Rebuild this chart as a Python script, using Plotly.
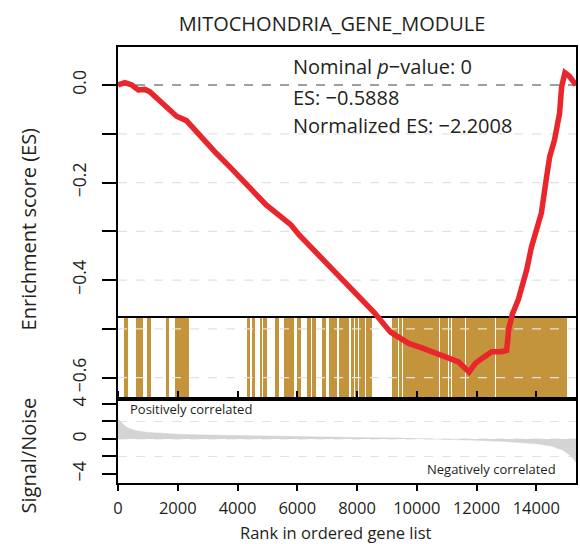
import plotly.graph_objects as go

# ---------------- data ----------------
N_GENES = 15330

es_rank = [0, 230, 460, 680, 900, 1070, 1340, 1680, 1960, 2290, 2620, 3290, 3840,
           4400, 4960, 5510, 5790, 6070, 6800, 7500, 8570, 9120, 9730, 10170, 10620,
           10960, 11400, 11750, 11960, 12180, 12510, 12840, 13010, 13080, 13200,
           13400, 13680, 13840, 13950, 14170, 14330, 14450, 14610, 14780, 14850,
           14960, 15110, 15330]
es_value = [0.0, 0.005, 0.0, -0.010, -0.009, -0.014, -0.029, -0.050, -0.064, -0.073,
            -0.096, -0.140, -0.174, -0.212, -0.246, -0.273, -0.287, -0.308, -0.354,
            -0.398, -0.466, -0.507, -0.530, -0.539, -0.549, -0.557, -0.568, -0.5888,
            -0.571, -0.561, -0.547, -0.547, -0.544, -0.500, -0.470, -0.440, -0.379,
            -0.332, -0.310, -0.263, -0.195, -0.147, -0.113, -0.058, -0.003, 0.025,
            0.018, 0.0]

# hit blocks (gene-set members) in rank units: start / end of each gold band
hit_start = [200, 600, 967, 1600, 1900, 4333, 4500, 4767, 4867, 5267, 5567, 6000,
             6333, 6500, 6833, 7067, 7400, 7783, 7917, 8067, 8317, 9167, 9417,
             9533, 10783, 11083, 11183, 11650, 12650]
hit_end = [333, 833, 1100, 1700, 2367, 4433, 4600, 4833, 5000, 5400, 5900, 6133,
           6467, 6633, 6967, 7333, 7733, 7883, 8033, 8283, 8500, 9383, 9500,
           10750, 11050, 11150, 11617, 12617, 15033]

sn_rank = [0, 100, 300, 600, 1000, 2000, 3000, 4000, 6000, 8000, 9500, 10500,
           11000, 12000, 13000, 14000, 14500, 14900, 15100, 15250, 15330]
sn_value = [2.3, 1.9, 1.3, 0.95, 0.75, 0.55, 0.45, 0.38, 0.28, 0.18, 0.1, 0.02,
            -0.05, -0.15, -0.3, -0.55, -0.8, -1.3, -1.8, -2.3, -2.7]

es_ticks = [0.0, -0.1, -0.2, -0.3, -0.4, -0.5, -0.6]
es_ticktext = ["0.0", "", "\u22120.2", "", "\u22120.4", "", "\u22120.6"]
es_grid = [-0.1, -0.2, -0.3, -0.4, -0.5, -0.6]
sn_ticks = [4, 2, 0, -2, -4]
sn_ticktext = ["4", "", "0", "", "\u22124"]
sn_grid = [2, 0, -2]
x_ticks = [0, 2000, 4000, 6000, 8000, 10000, 12000, 14000]
x_ticktext = ["0", "2000", "4000", "6000", "8000", "10000", "12000", "14000"]

title = "MITOCHONDRIA_GENE_MODULE"
stats = ["Nominal <i>p</i>\u2212value: 0", "ES: \u22120.5888", "Normalized ES: \u22122.2008"]

# ---------------- style ----------------
FONT = "Open Sans"
TXT = "#231f20"
RED = "#e8262b"
GOLD = "#c4943c"
GRID = "#e2e2e2"

fig = go.Figure()

# hit bars (subplot x/y)
fig.add_trace(go.Bar(
    x=[(s + e) / 2 for s, e in zip(hit_start, hit_end)],
    y=[1] * len(hit_start),
    width=[e - s for s, e in zip(hit_start, hit_end)],
    base=0, marker=dict(color=GOLD, line=dict(width=0)),
    xaxis="x", yaxis="y", hoverinfo="skip", showlegend=False))

# grid lines, zero line + ES curve (subplot x/y2, drawn above the hit bars)
for g in es_grid:
    fig.add_trace(go.Scatter(x=[0, N_GENES], y=[g, g], mode="lines",
                             line=dict(color=GRID, width=1.2, dash="dash"),
                             xaxis="x", yaxis="y2", hoverinfo="skip", showlegend=False))
fig.add_trace(go.Scatter(x=[0, N_GENES], y=[0, 0], mode="lines",
                         line=dict(color="#808080", width=1.5, dash="dash"),
                         xaxis="x", yaxis="y2", hoverinfo="skip", showlegend=False))
fig.add_trace(go.Scatter(x=es_rank, y=es_value, mode="lines",
                         line=dict(color=RED, width=5.5),
                         xaxis="x", yaxis="y2", showlegend=False))

# signal/noise (subplot x/y3)
for g in sn_grid:
    fig.add_trace(go.Scatter(x=[0, N_GENES], y=[g, g], mode="lines",
                             line=dict(color=GRID, width=1.2, dash="dash"),
                             xaxis="x", yaxis="y3", hoverinfo="skip", showlegend=False))
fig.add_trace(go.Scatter(x=sn_rank, y=sn_value, mode="lines", fill="tozeroy",
                         fillcolor="#d4d4d4", line=dict(color="#d4d4d4", width=0.5),
                         xaxis="x", yaxis="y3", showlegend=False))

ES_DOM = [84 / 436, 1.0]
HIT_DOM = [84 / 436, 165 / 436]
SN_DOM = [0.0, 84 / 436]

fig.update_layout(
    width=580, height=544,
    margin=dict(l=118, r=2, t=47, b=61),
    paper_bgcolor="white", plot_bgcolor="rgba(0,0,0,0)",
    font=dict(family=FONT, color=TXT, size=16),
    showlegend=False,
    bargap=0,
    xaxis=dict(range=[0, N_GENES], anchor="y3", tickvals=x_ticks, ticktext=x_ticktext,
               ticks="outside", ticklen=6, tickwidth=1.5, tickcolor="black",
               showline=True, linecolor="black", linewidth=1.6, mirror="all",
               showgrid=False, zeroline=False, tickfont=dict(size=16.5),
               ticklabelstandoff=3),
    yaxis=dict(domain=HIT_DOM, range=[0, 1], anchor="x", visible=False,
               showgrid=False, zeroline=False),
    yaxis2=dict(domain=ES_DOM, range=[-0.644, 0.078], anchor="x",
                tickvals=es_ticks, ticktext=es_ticktext, tickangle=-90,
                ticks="outside", ticklen=14, tickwidth=1.5, tickcolor="black",
                showline=True, linecolor="black", linewidth=2, mirror=True,
                showgrid=False, zeroline=False, tickfont=dict(size=17.5),
                ticklabelstandoff=9),
    yaxis3=dict(domain=SN_DOM, range=[-5.03, 4.57], anchor="x",
                tickvals=sn_ticks, ticktext=sn_ticktext, tickangle=-90,
                ticks="outside", ticklen=14, tickwidth=1.5, tickcolor="black",
                showline=True, linecolor="black", linewidth=2, mirror=True,
                showgrid=False, zeroline=False, tickfont=dict(size=17.5),
                ticklabelstandoff=9),
    title=dict(text=title, x=332 / 580, xanchor="center", xref="container",
               y=1 - 24 / 544, yanchor="middle", yref="container",
               font=dict(size=20, family=FONT, color=TXT)),
)

ann = []
for txt, ypx in zip(stats, [66, 97, 126]):
    ann.append(dict(text=txt, xref="paper", yref="paper", x=(292 - 118) / 460,
                    y=(483 - ypx) / 436, xanchor="left", yanchor="middle",
                    showarrow=False, font=dict(size=20, family=FONT, color=TXT)))
ann.append(dict(text="Positively correlated", xref="paper", yref="paper",
                x=(128 - 118) / 460, y=(483 - 409) / 436, xanchor="left",
                yanchor="middle", showarrow=False, font=dict(size=13)))
ann.append(dict(text="Negatively correlated", xref="paper", yref="paper",
                x=(560 - 118) / 460, y=(483 - 469) / 436, xanchor="right",
                yanchor="middle", showarrow=False, font=dict(size=13)))
ann.append(dict(text="Enrichment score (ES)", xref="paper", yref="paper",
                x=-(118 - 28) / 460, y=(483 - 229) / 436, textangle=-90,
                xanchor="center", yanchor="middle", showarrow=False,
                font=dict(size=20)))
ann.append(dict(text="Signal/Noise", xref="paper", yref="paper",
                x=-(118 - 28) / 460, y=(483 - 455) / 436, textangle=-90,
                xanchor="center", yanchor="middle", showarrow=False,
                font=dict(size=20)))
ann.append(dict(text="Rank in ordered gene list", xref="paper", yref="paper",
                x=(337 - 118) / 460, y=(483 - 532) / 436, xanchor="center",
                yanchor="middle", showarrow=False, font=dict(size=16.5)))
fig.update_layout(annotations=ann)

fig.write_html("out.html")
